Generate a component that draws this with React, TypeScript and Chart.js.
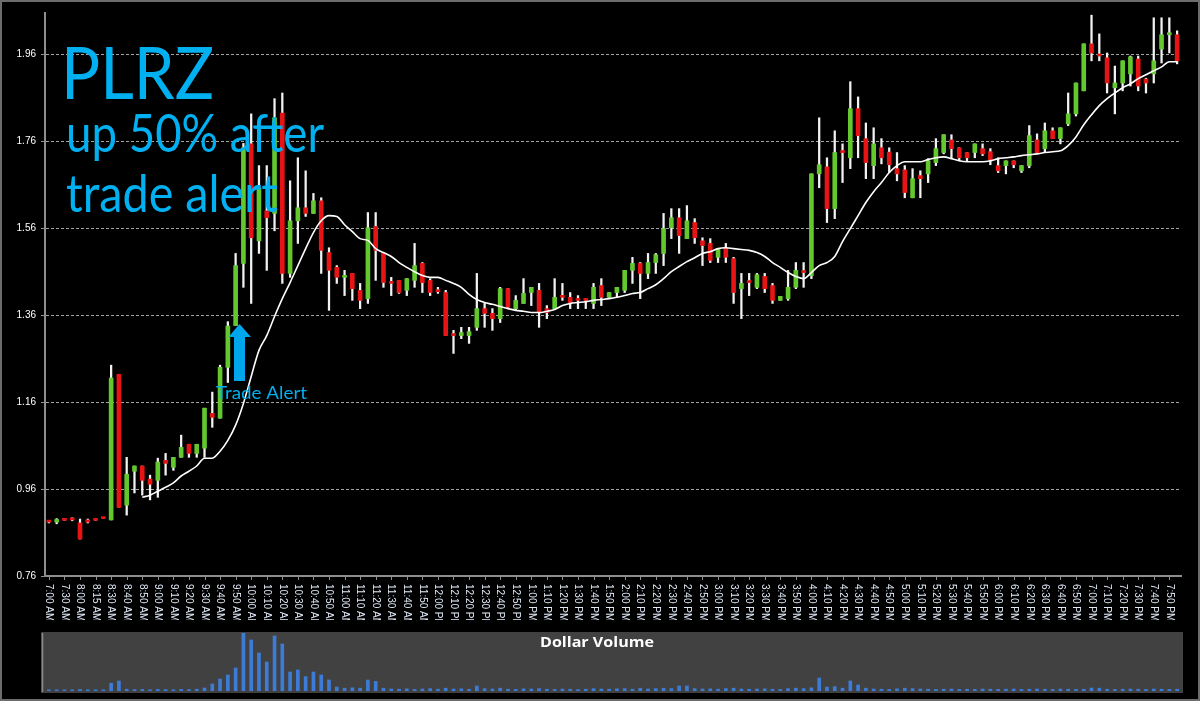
import React, { useEffect, useRef } from "react";
import { Chart, registerables } from "chart.js";
Chart.register(...registerables);

const tickLabels = [
  "7:00 AM", "7:30 AM", "8:00 AM", "8:15 AM", "8:30 AM", "8:40 AM", "8:50 AM", "9:00 AM", "9:10 AM", "9:20 AM",
  "9:30 AM", "9:40 AM", "9:50 AM", "10:00 AM", "10:10 AM", "10:20 AM", "10:30 AM", "10:40 AM", "10:50 AM", "11:00 AM",
  "11:10 AM", "11:20 AM", "11:30 AM", "11:40 AM", "11:50 AM", "12:00 PM", "12:10 PM", "12:20 PM", "12:30 PM", "12:40 PM",
  "12:50 PM", "1:00 PM", "1:10 PM", "1:20 PM", "1:30 PM", "1:40 PM", "1:50 PM", "2:00 PM", "2:10 PM", "2:20 PM",
  "2:30 PM", "2:40 PM", "2:50 PM", "3:00 PM", "3:10 PM", "3:20 PM", "3:30 PM", "3:40 PM", "3:50 PM", "4:00 PM",
  "4:10 PM", "4:20 PM", "4:30 PM", "4:40 PM", "4:50 PM", "5:00 PM", "5:10 PM", "5:20 PM", "5:30 PM", "5:40 PM",
  "5:50 PM", "6:00 PM", "6:10 PM", "6:20 PM", "6:30 PM", "6:40 PM", "6:50 PM", "7:00 PM", "7:10 PM", "7:20 PM",
  "7:30 PM", "7:40 PM", "7:50 PM",
];

const yTicks = [0.76, 0.96, 1.16, 1.36, 1.56, 1.76, 1.96];

const opens = [
  0.884, 0.884, 0.889, 0.893, 0.882, 0.889, 0.889, 0.893, 0.889, 1.224,
  0.923, 1.001, 1.013, 0.983, 0.980, 1.026, 1.010, 1.033, 1.063, 1.042,
  1.054, 1.134, 1.123, 1.240, 1.336, 1.479, 1.754, 1.531, 1.600, 1.594,
  1.825, 1.456, 1.577, 1.607, 1.594, 1.623, 1.504, 1.470, 1.447, 1.456,
  1.417, 1.398, 1.564, 1.502, 1.435, 1.440, 1.417, 1.440, 1.479, 1.440,
  1.414, 1.412, 1.313, 1.313, 1.313, 1.332, 1.375, 1.364, 1.352, 1.421,
  1.375, 1.387, 1.412, 1.417, 1.375, 1.375, 1.401, 1.401, 1.394, 1.394,
  1.387, 1.428, 1.401, 1.412, 1.417, 1.463, 1.479, 1.456, 1.481, 1.502,
  1.561, 1.584, 1.536, 1.573, 1.531, 1.525, 1.493, 1.515, 1.490, 1.421,
  1.435, 1.424, 1.449, 1.428, 1.394, 1.398, 1.424, 1.458, 1.451, 1.685,
  1.701, 1.605, 1.734, 1.722, 1.835, 1.766, 1.704, 1.745, 1.735, 1.697,
  1.694, 1.630, 1.681, 1.685, 1.711, 1.734, 1.763, 1.745, 1.734, 1.734,
  1.743, 1.736, 1.704, 1.704, 1.715, 1.692, 1.704, 1.763, 1.743, 1.784,
  1.766, 1.800, 1.823, 1.876, 1.984, 1.956, 1.952, 1.883, 1.894, 1.915,
  1.949, 1.903, 1.915, 1.972, 2.005, 2.005,
];

const highs = [
  0.886, 0.892, 0.890, 0.894, 0.891, 0.891, 0.889, 0.893, 1.245, 1.224,
  1.033, 1.013, 1.013, 0.992, 1.031, 1.042, 1.033, 1.084, 1.063, 1.063,
  1.146, 1.183, 1.245, 1.345, 1.502, 1.755, 1.823, 1.704, 1.704, 1.858,
  1.871, 1.669, 1.722, 1.692, 1.640, 1.630, 1.515, 1.474, 1.463, 1.456,
  1.433, 1.596, 1.596, 1.502, 1.447, 1.440, 1.444, 1.525, 1.481, 1.444,
  1.424, 1.417, 1.325, 1.332, 1.332, 1.456, 1.387, 1.375, 1.424, 1.421,
  1.405, 1.444, 1.424, 1.433, 1.382, 1.444, 1.433, 1.412, 1.405, 1.394,
  1.433, 1.444, 1.412, 1.424, 1.463, 1.493, 1.481, 1.502, 1.502, 1.594,
  1.605, 1.605, 1.612, 1.582, 1.538, 1.536, 1.511, 1.525, 1.493, 1.456,
  1.456, 1.456, 1.456, 1.433, 1.403, 1.463, 1.481, 1.481, 1.685, 1.814,
  1.722, 1.784, 1.754, 1.897, 1.862, 1.802, 1.791, 1.766, 1.745, 1.734,
  1.704, 1.697, 1.692, 1.720, 1.766, 1.775, 1.775, 1.745, 1.734, 1.754,
  1.754, 1.743, 1.722, 1.715, 1.715, 1.704, 1.796, 1.777, 1.802, 1.791,
  1.791, 1.871, 1.894, 1.984, 2.050, 2.007, 1.963, 1.933, 1.945, 1.956,
  1.956, 1.905, 2.044, 2.044, 2.044, 2.014,
];

const lows = [
  0.882, 0.880, 0.888, 0.887, 0.845, 0.882, 0.888, 0.892, 0.889, 0.918,
  0.900, 0.951, 0.946, 0.935, 0.941, 0.992, 1.003, 1.033, 1.033, 1.033,
  1.033, 1.102, 1.123, 1.205, 1.336, 1.424, 1.387, 1.502, 1.463, 1.554,
  1.433, 1.447, 1.525, 1.587, 1.594, 1.456, 1.371, 1.433, 1.405, 1.394,
  1.375, 1.387, 1.440, 1.424, 1.405, 1.410, 1.405, 1.424, 1.412, 1.405,
  1.410, 1.313, 1.272, 1.306, 1.295, 1.325, 1.332, 1.325, 1.343, 1.375,
  1.371, 1.387, 1.382, 1.332, 1.352, 1.375, 1.394, 1.375, 1.375, 1.375,
  1.375, 1.382, 1.401, 1.401, 1.412, 1.433, 1.398, 1.444, 1.456, 1.474,
  1.536, 1.502, 1.536, 1.525, 1.474, 1.481, 1.481, 1.481, 1.387, 1.352,
  1.405, 1.421, 1.412, 1.387, 1.394, 1.394, 1.421, 1.424, 1.444, 1.653,
  1.573, 1.582, 1.665, 1.697, 1.722, 1.674, 1.674, 1.708, 1.688, 1.669,
  1.630, 1.630, 1.630, 1.665, 1.704, 1.731, 1.720, 1.715, 1.715, 1.722,
  1.727, 1.706, 1.688, 1.685, 1.699, 1.688, 1.699, 1.734, 1.734, 1.766,
  1.754, 1.796, 1.818, 1.876, 1.945, 1.945, 1.871, 1.823, 1.876, 1.887,
  1.876, 1.871, 1.894, 1.940, 1.963, 1.938,
];

const closes = [
  0.884, 0.890, 0.888, 0.889, 0.845, 0.884, 0.888, 0.892, 1.215, 0.918,
  0.994, 1.013, 0.980, 0.971, 1.022, 1.019, 1.033, 1.056, 1.042, 1.063,
  1.146, 1.125, 1.240, 1.335, 1.474, 1.745, 1.538, 1.653, 1.584, 1.814,
  1.456, 1.577, 1.607, 1.594, 1.623, 1.509, 1.463, 1.447, 1.449, 1.421,
  1.394, 1.561, 1.509, 1.435, 1.433, 1.412, 1.444, 1.474, 1.435, 1.412,
  1.414, 1.313, 1.313, 1.320, 1.322, 1.375, 1.364, 1.352, 1.421, 1.378,
  1.394, 1.410, 1.424, 1.366, 1.366, 1.401, 1.401, 1.389, 1.394, 1.394,
  1.424, 1.401, 1.412, 1.424, 1.463, 1.479, 1.456, 1.481, 1.499, 1.559,
  1.584, 1.543, 1.577, 1.538, 1.520, 1.486, 1.511, 1.493, 1.412, 1.433,
  1.435, 1.453, 1.421, 1.394, 1.403, 1.424, 1.463, 1.458, 1.685, 1.706,
  1.605, 1.734, 1.734, 1.835, 1.773, 1.711, 1.754, 1.722, 1.706, 1.685,
  1.642, 1.674, 1.674, 1.715, 1.743, 1.775, 1.743, 1.722, 1.722, 1.754,
  1.731, 1.718, 1.692, 1.715, 1.706, 1.704, 1.773, 1.734, 1.784, 1.766,
  1.791, 1.823, 1.894, 1.984, 1.963, 1.956, 1.894, 1.894, 1.945, 1.954,
  1.887, 1.894, 1.945, 2.005, 2.006, 1.945,
];

const movingAvg = [
  null, null, null, null, null, null, null, null, null, null,
  null, null, 0.941, 0.946, 0.955, 0.964, 0.974, 0.990, 1.001, 1.013,
  1.031, 1.031, 1.047, 1.072, 1.107, 1.157, 1.219, 1.279, 1.313, 1.357,
  1.398, 1.435, 1.474, 1.513, 1.550, 1.577, 1.589, 1.587, 1.568, 1.552,
  1.536, 1.532, 1.513, 1.504, 1.495, 1.481, 1.470, 1.460, 1.451, 1.447,
  1.447, 1.440, 1.433, 1.424, 1.408, 1.396, 1.389, 1.385, 1.380, 1.375,
  1.371, 1.369, 1.366, 1.366, 1.369, 1.373, 1.382, 1.387, 1.389, 1.391,
  1.394, 1.396, 1.398, 1.401, 1.405, 1.410, 1.412, 1.421, 1.430, 1.444,
  1.460, 1.472, 1.483, 1.492, 1.502, 1.506, 1.513, 1.515, 1.513, 1.511,
  1.509, 1.504, 1.495, 1.481, 1.470, 1.458, 1.449, 1.444, 1.458, 1.474,
  1.481, 1.495, 1.529, 1.559, 1.589, 1.619, 1.644, 1.665, 1.688, 1.704,
  1.713, 1.713, 1.713, 1.718, 1.722, 1.724, 1.720, 1.715, 1.713, 1.713,
  1.713, 1.715, 1.720, 1.722, 1.724, 1.727, 1.729, 1.731, 1.734, 1.736,
  1.738, 1.750, 1.770, 1.798, 1.821, 1.842, 1.858, 1.871, 1.883, 1.892,
  1.904, 1.913, 1.922, 1.931, 1.943, 1.943,
];

// dollar volume, thousands of $
const dollarVolume = [
  6, 6, 6, 6, 8, 6, 6, 6, 39, 50,
  9, 7, 8, 6, 8, 7, 6, 8, 7, 9,
  15, 35, 60, 80, 115, 290, 255, 190, 145, 275,
  235, 95, 105, 72, 95, 80, 55, 20, 14, 16,
  14, 55, 48, 14, 10, 9, 11, 8, 10, 12,
  9, 14, 10, 11, 9, 25, 12, 10, 14, 9,
  8, 11, 10, 12, 9, 8, 10, 9, 7, 9,
  12, 10, 9, 11, 12, 9, 14, 10, 12, 14,
  12, 25, 25, 12, 10, 11, 9, 12, 14, 10,
  9, 10, 11, 9, 8, 12, 14, 12, 16, 65,
  20, 22, 14, 50, 30, 14, 10, 9, 8, 11,
  14, 12, 10, 9, 8, 9, 10, 8, 9, 8,
  10, 9, 8, 9, 10, 8, 9, 10, 9, 8,
  10, 9, 8, 9, 15, 14, 9, 8, 9, 10,
  9, 8, 10, 9, 8, 9,
];

const GREEN = "#62c82e";
const RED = "#e61414";
const BLUE_TEXT = "#00b0f0";
const AXIS_GRAY = "#8e8e8e";

function fitText(ctx: CanvasRenderingContext2D, text: string, x: number, baseline: number, font: string, width: number) {
  ctx.font = font;
  const w = ctx.measureText(text).width;
  ctx.save();
  ctx.translate(x, baseline);
  ctx.scale(width / w, 1);
  ctx.fillText(text, 0, 0);
  ctx.restore();
}

export default function App() {
  const mainRef = useRef<HTMLCanvasElement>(null);
  const volRef = useRef<HTMLCanvasElement>(null);

  useEffect(() => {
    document.body.style.margin = "0";
    document.body.style.background = "#000";
    const labels = tickLabels.flatMap((t) => [t, ""]);
    const bodyColors = opens.map((o, i) => (closes[i] > o ? GREEN : RED));

    const xLabelsPlugin = {
      id: "xLabels",
      afterDraw(chart: any) {
        const ctx: CanvasRenderingContext2D = chart.ctx;
        const xs = chart.scales.x;
        const bottom = chart.chartArea.bottom;
        ctx.save();
        ctx.strokeStyle = AXIS_GRAY;
        ctx.lineWidth = 1;
        tickLabels.forEach((_, k) => {
          const x = Math.round(xs.getPixelForValue(k * 2)) + 0.5;
          ctx.beginPath();
          ctx.moveTo(x, bottom + 1);
          ctx.lineTo(x, bottom + 4);
          ctx.stroke();
        });
        ctx.beginPath();
        ctx.rect(0, bottom + 2, 1200, 43);
        ctx.clip();
        ctx.fillStyle = "#dfe8f5";
        ctx.font = '10px "Liberation Sans"';
        ctx.textAlign = "left";
        ctx.textBaseline = "middle";
        tickLabels.forEach((t, k) => {
          const x = xs.getPixelForValue(k * 2);
          ctx.save();
          ctx.translate(x, bottom + 8);
          ctx.rotate(Math.PI / 2);
          ctx.fillText(t, 0, 0);
          ctx.restore();
        });
        ctx.restore();
      },
    };

    const annotPlugin = {
      id: "annot",
      afterDraw(chart: any) {
        const ctx: CanvasRenderingContext2D = chart.ctx;
        ctx.save();
        ctx.fillStyle = BLUE_TEXT;
        ctx.textAlign = "left";
        ctx.textBaseline = "alphabetic";
        fitText(ctx, "PLRZ", 61, 99, '72px "Lato"', 153);
        fitText(ctx, "up 50% after", 66, 152, '53px "Lato"', 258);
        fitText(ctx, "trade alert", 66, 212, '53px "Lato"', 212);
        fitText(ctx, "Trade Alert", 216, 399, '18px "Lato"', 91);
        ctx.fillStyle = "#00a6ec";
        ctx.beginPath();
        ctx.moveTo(239.5, 324);
        ctx.lineTo(251, 337);
        ctx.lineTo(245, 337);
        ctx.lineTo(245, 381);
        ctx.lineTo(234, 381);
        ctx.lineTo(234, 337);
        ctx.lineTo(228.5, 337);
        ctx.closePath();
        ctx.fill();
        ctx.restore();
      },
    };

    const main = new Chart(mainRef.current!, {
      type: "bar",
      data: {
        labels,
        datasets: [
          {
            type: "line",
            data: movingAvg as any,
            borderColor: "#ffffff",
            borderWidth: 1.6,
            pointRadius: 0,
            cubicInterpolationMode: "monotone",
            order: 0,
          } as any,
          {
            type: "bar",
            data: opens.map((o, i) => [o, closes[i]]) as any,
            backgroundColor: bodyColors,
            barThickness: 4,
            minBarLength: 2,
            grouped: false,
            order: 1,
          } as any,
          {
            type: "bar",
            data: lows.map((l, i) => [l, highs[i]]) as any,
            backgroundColor: "#f2f2f2",
            barThickness: 1.6,
            grouped: false,
            order: 2,
          } as any,
        ],
      },
      options: {
        animation: false,
        responsive: false,
        devicePixelRatio: 1,
        events: [],
        layout: { padding: { left: 0, right: 19, top: 13, bottom: 44 } },
        plugins: { legend: { display: false }, tooltip: { enabled: false } },
        scales: {
          x: {
            type: "category",
            offset: true,
            grid: { display: false },
            ticks: { display: false },
            border: { display: true, color: AXIS_GRAY, width: 2 },
            afterFit: (s: any) => {
              s.height = 0;
            },
          },
          y: {
            type: "linear",
            min: 0.76,
            max: 2.055,
            afterBuildTicks: (s: any) => {
              s.ticks = yTicks.map((v) => ({ value: v }));
            },
            afterFit: (s: any) => {
              s.width = 45;
            },
            ticks: {
              color: "#ffffff",
              font: { family: "Liberation Sans", size: 10 },
              padding: 5,
              callback: (v: any) => Number(v).toFixed(2),
            },
            grid: {
              color: (c: any) => (c.tick && Math.abs(c.tick.value - 0.76) < 1e-6 ? "rgba(0,0,0,0)" : "#a4a4a4"),
              lineWidth: 1,
              drawTicks: true,
              tickLength: 4,
              tickColor: AXIS_GRAY,
            },
            border: { display: true, color: AXIS_GRAY, width: 2, dash: [3, 2] },
          },
        },
      } as any,
      plugins: [xLabelsPlugin, annotPlugin],
    });

    const panelPlugin = {
      id: "panel",
      beforeDraw(chart: any) {
        const ctx: CanvasRenderingContext2D = chart.ctx;
        ctx.save();
        ctx.fillStyle = "#414141";
        ctx.fillRect(41, 12, 1142, 61);
        ctx.strokeStyle = "#8a8a8a";
        ctx.lineWidth = 1.5;
        ctx.beginPath();
        ctx.moveTo(42.5, 13);
        ctx.lineTo(42.5, 72);
        ctx.stroke();
        ctx.restore();
      },
      afterDraw(chart: any) {
        const ctx: CanvasRenderingContext2D = chart.ctx;
        ctx.save();
        ctx.fillStyle = "#ffffff";
        ctx.textAlign = "left";
        ctx.textBaseline = "alphabetic";
        fitText(ctx, "Dollar Volume", 540, 27, 'bold 15px "Open Sans"', 114);
        ctx.restore();
      },
    };

    const vol = new Chart(volRef.current!, {
      type: "bar",
      data: {
        labels,
        datasets: [
          {
            data: dollarVolume,
            backgroundColor: "#3d7cd6",
            barThickness: 3,
          },
        ],
      },
      options: {
        animation: false,
        responsive: false,
        devicePixelRatio: 1,
        events: [],
        layout: { padding: { left: 45, right: 19, top: 13, bottom: 10 } },
        plugins: { legend: { display: false }, tooltip: { enabled: false } },
        scales: {
          x: { type: "category", offset: true, display: false },
          y: { type: "linear", min: 0, max: 290, display: false },
        },
      } as any,
      plugins: [panelPlugin],
    });

    return () => {
      main.destroy();
      vol.destroy();
    };
  }, []);

  return (
    <div style={{ position: "fixed", left: 0, top: 0, width: 1200, height: 701, background: "#000", overflow: "hidden" }}>
      <canvas ref={mainRef} width={1200} height={620} style={{ position: "absolute", left: 0, top: 0 }} />
      <canvas ref={volRef} width={1200} height={81} style={{ position: "absolute", left: 0, top: 620 }} />
      <div
        style={{
          position: "absolute",
          left: 0,
          top: 0,
          width: 1200,
          height: 701,
          boxSizing: "border-box",
          border: "2px solid #6c6c6c",
          pointerEvents: "none",
        }}
      />
    </div>
  );
}
